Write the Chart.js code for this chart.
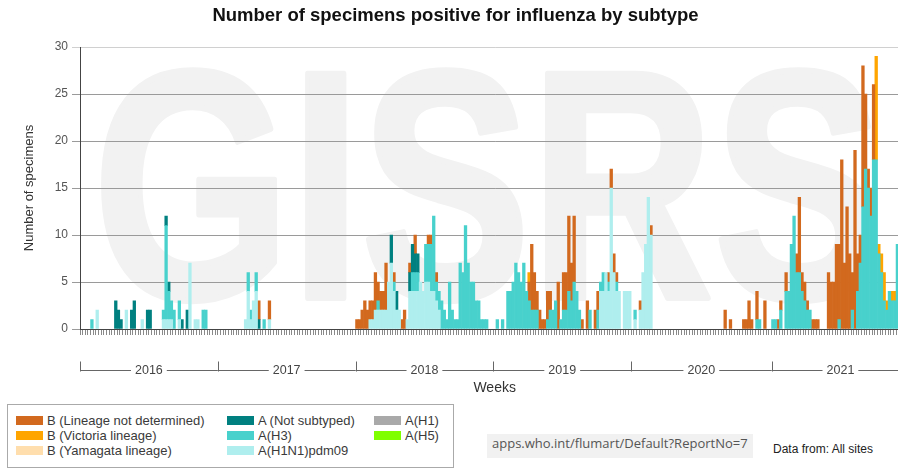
<!DOCTYPE html>
<html>
<head>
<meta charset="utf-8">
<title>Influenza specimens by subtype</title>
<script src="https://cdn.jsdelivr.net/npm/chart.js@4.4.1/dist/chart.umd.min.js"></script>
<style>
  html, body { margin: 0; padding: 0; background: #fff; overflow: hidden; }
  body { width: 898px; height: 468px; position: relative; font-family: "Liberation Sans", Arial, sans-serif; }
  #wrap { position: absolute; left: 0; top: 0; width: 911px; height: 400px; }
  #legend { position: absolute; left: 7px; top: 404px; width: 447px; height: 64px; border: 1px solid #aaa; box-sizing: border-box; }
  .item { position: absolute; display: flex; align-items: center; height: 16px; font-size: 13px; color: #3a3a3a; white-space: nowrap; }
  .sw { display: inline-block; width: 27px; height: 9px; margin-right: 4px; }
  #url { position: absolute; left: 487px; top: 434px; width: 266px; height: 24px; line-height: 24px; background: #f1f1f1;
         font: 13px "Open Sans", sans-serif; color: #555; padding-left: 5px; box-sizing: border-box; white-space: nowrap; }
  #src { position: absolute; left: 773px; top: 442px; font-size: 12px; color: #222; white-space: nowrap; }
</style>
</head>
<body>
<div id="wrap"><canvas id="fluChart" width="911" height="400"></canvas></div>
<div id="legend"></div>
<div id="url">apps.who.int/flumart/Default?ReportNo=7</div>
<div id="src">Data from: All sites</div>
<script>
// weeks on the x axis
const years = [2016, 2017, 2018, 2019, 2020, 2021];
const weeksPerYear = [52, 52, 52, 52, 53, 52];

// positive specimens per week: [week, count]
const pdm09 = [
  ['2016-W07', 2], ['2016-W18', 2], ['2016-W24', 1], ['2016-W32', 1], ['2016-W33', 1], ['2016-W34', 1],
  ['2016-W35', 1], ['2016-W38', 1], ['2016-W42', 7], ['2016-W44', 1], ['2016-W45', 1],
  ['2017-W11', 1], ['2017-W12', 4], ['2017-W13', 1], ['2017-W14', 3], ['2017-W15', 4], ['2017-W20', 1],
  ['2018-W06', 1], ['2018-W07', 1], ['2018-W08', 2], ['2018-W09', 2], ['2018-W10', 2], ['2018-W11', 2],
  ['2018-W12', 2], ['2018-W13', 5], ['2018-W14', 7], ['2018-W15', 4], ['2018-W16', 2], ['2018-W17', 2],
  ['2018-W20', 1], ['2018-W21', 4], ['2018-W22', 4], ['2018-W23', 4], ['2018-W24', 4], ['2018-W25', 5],
  ['2018-W26', 4], ['2018-W27', 5], ['2018-W28', 5], ['2018-W29', 4], ['2018-W30', 4], ['2018-W31', 3],
  ['2018-W32', 2],
  ['2019-W41', 4], ['2019-W42', 4], ['2019-W43', 6], ['2019-W44', 4], ['2019-W45', 15], ['2019-W46', 6],
  ['2019-W47', 4], ['2019-W48', 4], ['2019-W50', 4], ['2019-W51', 4], ['2019-W52', 4],
  ['2020-W02', 1], ['2020-W04', 2], ['2020-W05', 6], ['2020-W06', 9], ['2020-W07', 14], ['2020-W08', 10]
];

const h3 = [
  ['2016-W05', 1], ['2016-W32', 1], ['2016-W33', 10], ['2016-W34', 3], ['2016-W35', 2], ['2016-W36', 2],
  ['2016-W38', 2], ['2016-W47', 2], ['2016-W48', 2],
  ['2017-W12', 2], ['2017-W13', 1], ['2017-W15', 2], ['2017-W18', 1],
  ['2018-W09', 1], ['2018-W15', 1], ['2018-W22', 2], ['2018-W23', 2], ['2018-W24', 2], ['2018-W27', 4],
  ['2018-W28', 4], ['2018-W29', 5], ['2018-W30', 8], ['2018-W31', 2], ['2018-W32', 2], ['2018-W33', 3],
  ['2018-W34', 2], ['2018-W35', 1], ['2018-W36', 5], ['2018-W37', 2], ['2018-W38', 1], ['2018-W39', 1],
  ['2018-W40', 7], ['2018-W41', 6], ['2018-W42', 11], ['2018-W43', 7], ['2018-W44', 5], ['2018-W45', 5],
  ['2018-W46', 3], ['2018-W47', 3], ['2018-W48', 1], ['2018-W49', 1], ['2018-W50', 1],
  ['2019-W02', 1], ['2019-W04', 1], ['2019-W06', 4], ['2019-W07', 4], ['2019-W08', 5], ['2019-W09', 7],
  ['2019-W10', 6], ['2019-W11', 5], ['2019-W12', 7], ['2019-W13', 4], ['2019-W14', 3], ['2019-W15', 2],
  ['2019-W16', 2], ['2019-W17', 2], ['2019-W21', 1], ['2019-W22', 2], ['2019-W23', 2], ['2019-W24', 3],
  ['2019-W26', 1], ['2019-W27', 2], ['2019-W28', 2], ['2019-W29', 4], ['2019-W30', 3], ['2019-W31', 5],
  ['2019-W32', 4], ['2019-W33', 2], ['2019-W37', 2], ['2019-W40', 2], ['2019-W41', 1], ['2019-W42', 2],
  ['2019-W44', 1], ['2019-W47', 1],
  ['2020-W02', 1], ['2020-W48', 1], ['2020-W49', 1],
  ['2021-W01', 1], ['2021-W02', 1], ['2021-W04', 2], ['2021-W06', 4], ['2021-W07', 4], ['2021-W08', 9],
  ['2021-W09', 12], ['2021-W10', 6], ['2021-W11', 6], ['2021-W12', 4], ['2021-W13', 3], ['2021-W14', 2],
  ['2021-W15', 2], ['2021-W26', 1], ['2021-W31', 2], ['2021-W33', 4], ['2021-W34', 7], ['2021-W35', 13],
  ['2021-W36', 17], ['2021-W37', 15], ['2021-W38', 12], ['2021-W39', 18], ['2021-W40', 18], ['2021-W41', 8],
  ['2021-W42', 6], ['2021-W43', 3], ['2021-W44', 2], ['2021-W45', 4], ['2021-W46', 3], ['2021-W47', 3],
  ['2021-W48', 9]
];

const notSubtyped = [
  ['2016-W14', 3], ['2016-W15', 2], ['2016-W16', 1], ['2016-W20', 2], ['2016-W21', 3], ['2016-W26', 2],
  ['2016-W27', 2], ['2016-W33', 1], ['2016-W34', 1], ['2016-W39', 1], ['2016-W41', 2],
  ['2017-W16', 1],
  ['2018-W14', 3], ['2018-W16', 2], ['2018-W21', 2], ['2018-W22', 3], ['2018-W23', 2], ['2018-W24', 2]
];

const h1 = [];
const h5 = [];
const yamagata = [];

const lineageNd = [
  ['2017-W16', 2], ['2017-W20', 2],
  ['2018-W01', 1], ['2018-W02', 1], ['2018-W03', 2], ['2018-W04', 3], ['2018-W05', 2], ['2018-W06', 2],
  ['2018-W07', 2], ['2018-W08', 4], ['2018-W09', 2], ['2018-W10', 2], ['2018-W11', 2], ['2018-W12', 5],
  ['2018-W15', 1], ['2018-W18', 1], ['2018-W19', 2], ['2018-W21', 1], ['2018-W23', 2], ['2018-W28', 1],
  ['2018-W29', 1], ['2018-W31', 1],
  ['2019-W14', 2], ['2019-W15', 7], ['2019-W16', 4], ['2019-W17', 2], ['2019-W18', 2], ['2019-W19', 1],
  ['2019-W20', 1], ['2019-W21', 3], ['2019-W22', 2], ['2019-W25', 5], ['2019-W27', 4], ['2019-W28', 4],
  ['2019-W29', 8], ['2019-W30', 4], ['2019-W31', 7], ['2019-W34', 1], ['2019-W36', 3], ['2019-W39', 2],
  ['2019-W40', 2], ['2019-W44', 1], ['2019-W45', 2], ['2019-W46', 2], ['2019-W47', 1],
  ['2020-W04', 1], ['2020-W08', 1], ['2020-W36', 2], ['2020-W38', 1], ['2020-W43', 1], ['2020-W44', 1],
  ['2020-W45', 3], ['2020-W46', 1], ['2020-W48', 3], ['2020-W51', 3],
  ['2021-W03', 1], ['2021-W04', 1], ['2021-W06', 2], ['2021-W10', 2], ['2021-W11', 8], ['2021-W12', 2],
  ['2021-W13', 2], ['2021-W14', 1], ['2021-W16', 1], ['2021-W17', 1], ['2021-W18', 1], ['2021-W22', 6],
  ['2021-W23', 5], ['2021-W24', 5], ['2021-W25', 9], ['2021-W26', 8], ['2021-W27', 18], ['2021-W28', 7],
  ['2021-W29', 13], ['2021-W30', 8], ['2021-W31', 4], ['2021-W32', 19], ['2021-W33', 4], ['2021-W34', 3],
  ['2021-W35', 15], ['2021-W36', 8], ['2021-W37', 2], ['2021-W38', 3], ['2021-W39', 8]
];

const victoria = [
  ['2019-W14', 1],
  ['2021-W40', 11], ['2021-W41', 1], ['2021-W42', 2], ['2021-W43', 3], ['2021-W44', 1], ['2021-W46', 1],
  ['2021-W47', 1]
];

// stacked from the bottom up
const series = [
  { label: 'A(H1N1)pdm09', color: '#afeeee', values: pdm09 },
  { label: 'A(H3)', color: '#48d1cc', values: h3 },
  { label: 'A (Not subtyped)', color: '#008080', values: notSubtyped },
  { label: 'A(H1)', color: '#a9a9a9', values: h1 },
  { label: 'A(H5)', color: '#7fff00', values: h5 },
  { label: 'B (Yamagata lineage)', color: '#ffdead', values: yamagata },
  { label: 'B (Lineage not determined)', color: '#d2691e', values: lineageNd },
  { label: 'B (Victoria lineage)', color: '#ffa500', values: victoria }
];

const legendColumns = [
  ['B (Lineage not determined)', 'B (Victoria lineage)', 'B (Yamagata lineage)'],
  ['A (Not subtyped)', 'A(H3)', 'A(H1N1)pdm09'],
  ['A(H1)', 'A(H5)']
];

const weeks = [];
years.forEach((y, k) => {
  for (let w = 1; w <= weeksPerYear[k]; w++)
    weeks.push(`${y}-W${String(w).padStart(2, '0')}`);
});

function toWeekly(pairs) {
  const m = new Map(pairs);
  return weeks.map(w => m.has(w) ? m.get(w) : null);
}

const FONT = '"Liberation Sans", Arial, sans-serif';

// big faint letters behind the bars
const watermark = {
  id: 'watermark',
  beforeDraw(chart) {
    const ctx = chart.ctx;
    ctx.save();
    ctx.font = 'bold 326px ' + FONT;
    ctx.fillStyle = '#f2f2f2';
    ctx.strokeStyle = '#f2f2f2';
    ctx.lineWidth = 6;
    ctx.lineJoin = 'round';
    ctx.textAlign = 'center';
    ctx.textBaseline = 'alphabetic';
    ctx.fillText('GISRS', 488, 298, 790);
    ctx.strokeText('GISRS', 488, 298, 790);
    ctx.restore();
  }
};

// year ruler under the weekly ticks
const yearAxis = {
  id: 'yearAxis',
  afterDraw(chart) {
    const xs = chart.scales.x;
    const ctx = chart.ctx;
    const half = (xs.getPixelForValue(1) - xs.getPixelForValue(0)) / 2;
    const y = 370.5;
    ctx.save();
    ctx.strokeStyle = '#666';
    ctx.lineWidth = 1;
    ctx.fillStyle = '#444';
    ctx.font = '12.5px ' + FONT;
    ctx.textAlign = 'center';
    ctx.textBaseline = 'middle';
    let start = 0;
    years.forEach((yr, k) => {
      const end = start + weeksPerYear[k];
      const x0 = xs.getPixelForValue(start) - half;
      const x1 = xs.getPixelForValue(end) - half;
      const mid = (x0 + x1) / 2;
      const tw = ctx.measureText(String(yr)).width / 2 + 4;
      ctx.beginPath();
      ctx.moveTo(Math.round(x0) + 0.5, y - 9);
      ctx.lineTo(Math.round(x0) + 0.5, y + 1);
      ctx.moveTo(x0, y);
      ctx.lineTo(mid - tw, y);
      ctx.moveTo(mid + tw, y);
      ctx.lineTo(x1, y);
      ctx.stroke();
      ctx.fillText(String(yr), mid, y);
      start = end;
    });
    ctx.restore();
  }
};

const chart = new Chart(document.getElementById('fluChart').getContext('2d'), {
  type: 'bar',
  data: {
    labels: weeks,
    datasets: series.map(s => ({
      label: s.label,
      data: toWeekly(s.values),
      backgroundColor: s.color,
      borderWidth: 0,
      barPercentage: 1.0,
      categoryPercentage: 1.0
    }))
  },
  options: {
    responsive: false,
    animation: false,
    layout: { padding: 0 },
    plugins: {
      legend: { display: false },
      tooltip: { enabled: false },
      title: {
        display: true,
        text: 'Number of specimens positive for influenza by subtype',
        color: '#111',
        font: { family: FONT, size: 18.5, weight: 'bold' },
        padding: { top: 5, bottom: 19.8 }
      }
    },
    scales: {
      x: {
        stacked: true,
        afterFit(scale) { scale.height = 71; },
        grid: { drawOnChartArea: false, drawTicks: true, tickLength: 6, color: '#8a8a8a' },
        border: { color: '#444' },
        ticks: { autoSkip: false, maxRotation: 0, minRotation: 0, callback: () => '' },
        title: {
          display: true,
          text: 'Weeks',
          color: '#333',
          font: { family: FONT, size: 14 },
          padding: { top: 0, bottom: 3 }
        }
      },
      y: {
        stacked: true,
        min: 0,
        max: 30,
        afterFit(scale) { scale.width = 80; },
        grid: {
          color: (c) => c.tick && c.tick.value === 30 ? '#d0d0d0' : '#9a9a9a',
          tickLength: 8
        },
        border: { color: '#444' },
        ticks: { stepSize: 5, padding: 4, color: '#555', font: { family: FONT, size: 12 } },
        title: {
          display: true,
          text: 'Number of specimens',
          color: '#333',
          font: { family: FONT, size: 13 },
          padding: { top: 22, bottom: 0 }
        }
      }
    }
  },
  plugins: [watermark, yearAxis]
});

// legend box built from the datasets
const legendEl = document.getElementById('legend');
const colLeft = [8, 219, 366];
const rowTop = [7, 22, 37];
legendColumns.forEach((col, ci) => {
  col.forEach((label, ri) => {
    const s = series.find(d => d.label === label);
    const item = document.createElement('div');
    item.className = 'item';
    item.style.left = colLeft[ci] + 'px';
    item.style.top = rowTop[ri] + 'px';
    const sw = document.createElement('span');
    sw.className = 'sw';
    sw.style.background = s.color;
    item.appendChild(sw);
    item.appendChild(document.createTextNode(label));
    legendEl.appendChild(item);
  });
});
</script>
</body>
</html>
